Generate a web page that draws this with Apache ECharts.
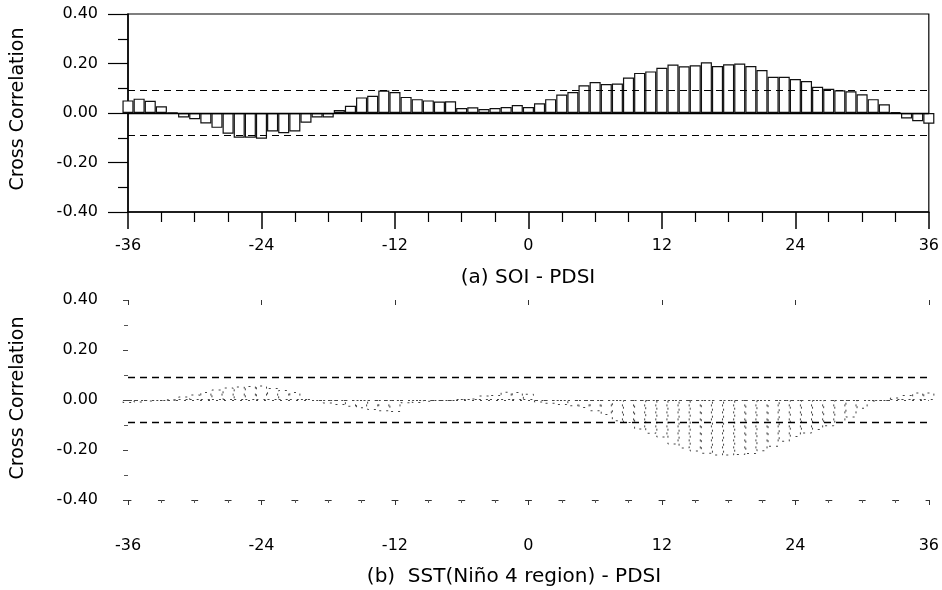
<!DOCTYPE html>
<html><head><meta charset="utf-8">
<script src="https://cdn.jsdelivr.net/npm/echarts@6/dist/echarts.min.js"></script>
<style>html,body{margin:0;padding:0;background:#fff}#c{width:942px;height:590px}</style>
</head><body><div id="c"></div>
<script>
// lag (months)
const lags = [-36,-35,-34,-33,-32,-31,-30,-29,-28,-27,-26,-25,-24,-23,-22,-21,-20,-19,-18,-17,-16,-15,-14,-13,
  -12,-11,-10,-9,-8,-7,-6,-5,-4,-3,-2,-1,0,1,2,3,4,5,6,7,8,9,10,11,12,13,14,15,16,17,18,19,20,21,22,23,24,
  25,26,27,28,29,30,31,32,33,34,35,36];
// (a) SOI - PDSI cross correlation
const soiPdsi = [0.051,0.058,0.049,0.027,0.002,-0.018,-0.025,-0.042,-0.060,-0.084,-0.100,-0.100,-0.104,-0.075,
  -0.082,-0.075,-0.039,-0.018,-0.018,0.012,0.029,0.063,0.070,0.091,0.085,0.065,0.056,0.051,0.046,0.047,0.020,
  0.023,0.016,0.020,0.024,0.032,0.024,0.039,0.056,0.075,0.085,0.112,0.125,0.117,0.119,0.143,0.162,0.168,0.183,
  0.196,0.189,0.193,0.205,0.190,0.197,0.200,0.190,0.174,0.146,0.146,0.137,0.129,0.106,0.098,0.092,0.088,0.076,
  0.056,0.035,0.004,-0.022,-0.033,-0.043];
// (b) SST(Nino 4 region) - PDSI cross correlation
const sstPdsi = [-0.012,-0.010,-0.006,-0.004,0.000,0.014,0.022,0.032,0.042,0.050,0.054,0.056,0.058,0.048,0.040,
  0.032,0.004,-0.004,-0.014,-0.020,-0.027,-0.033,-0.040,-0.045,-0.048,-0.013,-0.012,-0.007,-0.004,-0.004,0.004,
  0.006,0.018,0.020,0.033,0.032,0.025,-0.010,-0.015,-0.020,-0.025,-0.032,-0.045,-0.060,-0.085,-0.092,-0.118,
  -0.135,-0.150,-0.178,-0.194,-0.206,-0.215,-0.222,-0.222,-0.220,-0.216,-0.205,-0.187,-0.167,-0.148,-0.134,
  -0.120,-0.105,-0.092,-0.070,-0.035,-0.006,-0.004,0.010,0.020,0.030,0.030];
const confLimit = 0.088;
const panelTitles = ['(a) SOI - PDSI', '(b)  SST(Niño 4 region) - PDSI'];
const yAxisTitle = 'Cross Correlation';

const FONT = 'DejaVu Sans';
const chart = echarts.init(document.getElementById('c'), null, {renderer: 'canvas'});
const fmt = v => v.toFixed(2);
const lbl = {color: '#000', fontSize: 16, fontFamily: FONT};

chart.setOption({
  animation: false,
  backgroundColor: '#fff',
  grid: [
    {left: 128, right: 13, top: 14, height: 198, show: true, borderColor: '#000', borderWidth: 1.2, backgroundColor: 'rgba(0,0,0,0)'},
    {left: 128, right: 13, top: 300, height: 200}
  ],
  xAxis: [
    {gridIndex: 0, type: 'value', min: -36, max: 36, interval: 12, position: 'bottom',
      axisLine: {show: true, onZero: false, lineStyle: {color: '#000', width: 1.5}},
      axisTick: {show: true, length: 17, lineStyle: {color: '#000', width: 1.5}},
      minorTick: {show: true, splitNumber: 4, length: 10, lineStyle: {color: '#000', width: 1.2}},
      splitLine: {show: false},
      axisLabel: Object.assign({margin: 26}, lbl)},
    {gridIndex: 1, type: 'value', min: -36, max: 36, interval: 12, position: 'bottom',
      axisLine: {show: true, onZero: false, lineStyle: {color: '#333', width: 1, type: [6, 27.375], dashOffset: 3}},
      axisTick: {show: true, length: 5, lineStyle: {color: '#333', width: 1}},
      minorTick: {show: true, splitNumber: 4, length: 3, lineStyle: {color: '#555', width: 1}},
      splitLine: {show: false},
      axisLabel: Object.assign({margin: 38}, lbl)},
    {gridIndex: 1, type: 'value', min: -36, max: 36, interval: 12, position: 'top',
      axisLine: {show: false, onZero: false},
      axisTick: {show: true, inside: true, length: 5, lineStyle: {color: '#333', width: 1}},
      splitLine: {show: false},
      axisLabel: {show: false}}
  ],
  yAxis: [
    {gridIndex: 0, type: 'value', min: -0.4, max: 0.4, interval: 0.2,
      axisLine: {show: true, onZero: false, lineStyle: {color: '#000', width: 1.5}},
      axisTick: {show: true, length: 20, lineStyle: {color: '#000', width: 1.2}},
      minorTick: {show: true, splitNumber: 2, length: 10, lineStyle: {color: '#000', width: 1.2}},
      splitLine: {show: false},
      axisLabel: Object.assign({margin: 30, formatter: fmt}, lbl)},
    {gridIndex: 1, type: 'value', min: -0.4, max: 0.4, interval: 0.2,
      axisLine: {show: false, onZero: false},
      axisTick: {show: true, length: 5, lineStyle: {color: '#444', width: 1}},
      minorTick: {show: true, splitNumber: 2, length: 4, lineStyle: {color: '#555', width: 1}},
      splitLine: {show: false},
      axisLabel: Object.assign({margin: 30, formatter: fmt}, lbl)}
  ],
  series: [
    {type: 'bar', xAxisIndex: 0, yAxisIndex: 0, barWidth: 11.1, clip: false,
      data: lags.map((l, i) => [l, soiPdsi[i]]),
      itemStyle: {color: '#fff', borderColor: '#111', borderWidth: 1.2},
      markLine: {silent: true, symbol: 'none', label: {show: false},
        data: [
          {yAxis: confLimit, lineStyle: {type: [7, 5], color: '#000', width: 1.2}},
          {yAxis: -confLimit, lineStyle: {type: [7, 5], color: '#000', width: 1.2}},
          {yAxis: 0, lineStyle: {type: 'solid', color: '#000', width: 1.3}}
        ]}},
    {type: 'bar', xAxisIndex: 1, yAxisIndex: 1, barWidth: 11.1, clip: false,
      data: lags.map((l, i) => [l, sstPdsi[i]]),
      itemStyle: {color: 'rgba(0,0,0,0)', borderColor: '#444', borderWidth: 1, borderType: [2, 5]},
      markLine: {silent: true, symbol: 'none', label: {show: false},
        data: [
          {yAxis: confLimit, lineStyle: {type: [7, 5], color: '#000', width: 1.3}},
          {yAxis: -confLimit, lineStyle: {type: [7, 5], color: '#000', width: 1.3}},
          {yAxis: 0, lineStyle: {type: [2, 6], color: '#444', width: 1}}
        ]}}
  ],
  graphic: [
    {type: 'text', x: 18, y: 109, rotation: Math.PI / 2,
      style: {text: yAxisTitle, fill: '#000', font: '19px "DejaVu Sans"', align: 'center', verticalAlign: 'middle'}},
    {type: 'text', x: 18, y: 398, rotation: Math.PI / 2,
      style: {text: yAxisTitle, fill: '#000', font: '19px "DejaVu Sans"', align: 'center', verticalAlign: 'middle'}},
    {type: 'text', x: 528, y: 278,
      style: {text: panelTitles[0], fill: '#000', font: '20px "DejaVu Sans"', align: 'center', verticalAlign: 'middle'}},
    {type: 'text', x: 514, y: 577,
      style: {text: panelTitles[1], fill: '#000', font: '20px "DejaVu Sans"', align: 'center', verticalAlign: 'middle'}}
  ]
});
</script></body></html>
